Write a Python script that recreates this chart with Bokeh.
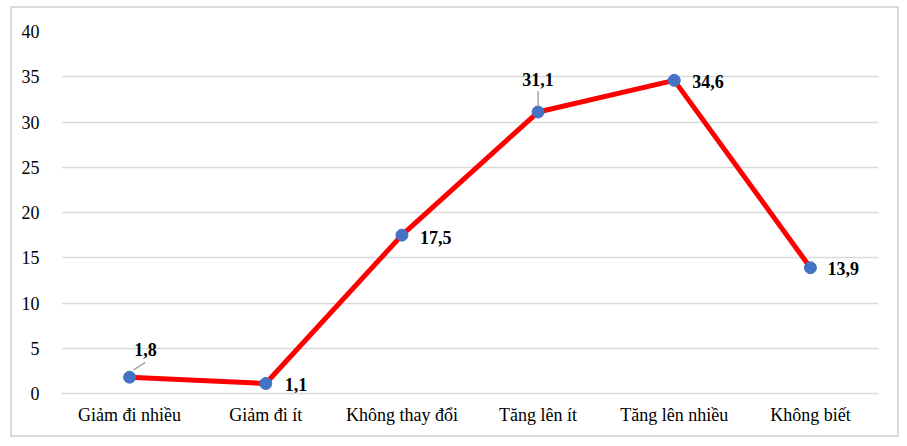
from bokeh.plotting import figure
from bokeh.models import ColumnDataSource, FixedTicker, InlineStyleSheet
from bokeh.core.properties import value
from bokeh.embed import file_html
from bokeh.resources import INLINE

categories = ["Giảm đi nhiều", "Giảm đi ít", "Không thay đổi", "Tăng lên ít", "Tăng lên nhiều", "Không biết"]
values = [1.8, 1.1, 17.5, 31.1, 34.6, 13.9]
labels = ["1,8", "1,1", "17,5", "31,1", "34,6", "13,9"]
y_ticks = [0, 5, 10, 15, 20, 25, 30, 35, 40]

# label placement (screen px offsets) - style only
label_dx = [16, 19, 18, 0, 18, 17]
label_dy = [-28, 1, 2, -33, 1, 1]
label_align = ["center", "left", "left", "center", "left", "left"]

FONT = "'Liberation Serif', 'Times New Roman', serif"

W, H = 889, 431
p = figure(x_range=categories, y_range=(0, 40), width=W, height=H,
           output_backend="svg", toolbar_location=None,
           min_border_left=49, min_border_top=23, min_border_right=23, min_border_bottom=46)
p.stylesheets = [InlineStyleSheet(css=":host { border: 2px solid #d9d9d9; margin-left: 10px; margin-top: 6px; }")]
p.outline_line_color = None
p.background_fill_color = "white"
p.border_fill_color = "white"
p.x_range.range_padding = 0

p.xgrid.grid_line_color = None
p.ygrid.grid_line_color = "#d9d9d9"
p.ygrid.grid_line_width = 1.5
p.yaxis.ticker = FixedTicker(ticks=y_ticks)

for ax in (p.xaxis, p.yaxis):
    ax.major_tick_line_color = None
    ax.minor_tick_line_color = None
    ax.major_label_text_font = FONT
    ax.major_label_text_font_size = "18px"
    ax.major_label_text_color = "#000000"
p.yaxis.axis_line_color = None
p.yaxis.major_label_standoff = 16
p.xaxis.axis_line_color = "#d9d9d9"
p.xaxis.axis_line_width = 1.5
p.xaxis.major_label_standoff = 5

src = ColumnDataSource(dict(x=categories, y=values, lab=labels, dx=label_dx, dy=label_dy, al=label_align))

p.line("x", "y", source=src, line_color="#ff0000", line_width=5)
p.scatter("x", "y", source=src, size=12, fill_color="#4472c4", line_color="#4472c4")

# leader lines for the labels placed above points
lead_x0 = [(categories[0], 0.03), (categories[3], 0.0)]
lead_x1 = [(categories[0], 0.115), (categories[3], 0.0)]
lead_y0 = [values[0] + 0.8, values[3] + 0.66]
lead_y1 = [values[0] + 1.65, values[3] + 2.3]
p.segment(x0=lead_x0, y0=lead_y0, x1=lead_x1, y1=lead_y1, line_color="#a6a6a6", line_width=1.5)

p.text("x", "y", text="lab", source=src, x_offset="dx", y_offset="dy",
       text_align="al", text_baseline="middle",
       text_font=value(FONT), text_font_style="bold", text_font_size="18px", text_color="#000000")

open("out.html", "w").write(file_html(p, INLINE))
